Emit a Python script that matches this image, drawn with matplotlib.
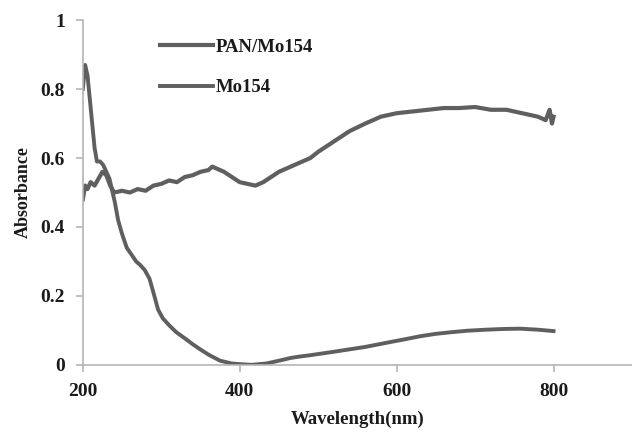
import numpy as np
import matplotlib.pyplot as plt

# wavelength (nm) and absorbance
wl_pan = [200, 203, 206, 210, 215, 220, 225, 230, 235, 240, 250, 260, 270, 280, 290,
          300, 310, 320, 330, 340, 350, 360, 365, 370, 380, 390, 400, 410, 420, 430,
          440, 450, 460, 470, 480, 490, 500, 520, 540, 560, 580, 600, 620, 640, 660,
          680, 700, 720, 740, 760, 770, 780, 790, 795, 798, 800]
abs_pan = [0.48, 0.52, 0.51, 0.53, 0.52, 0.54, 0.56, 0.55, 0.52, 0.50, 0.505, 0.50, 0.51, 0.505, 0.52,
           0.525, 0.535, 0.53, 0.545, 0.55, 0.56, 0.565, 0.575, 0.57, 0.56, 0.545, 0.53, 0.525, 0.52, 0.53,
           0.545, 0.56, 0.57, 0.58, 0.59, 0.60, 0.618, 0.648, 0.678, 0.70, 0.72, 0.73, 0.735, 0.74, 0.745,
           0.745, 0.748, 0.74, 0.74, 0.73, 0.725, 0.72, 0.71, 0.74, 0.70, 0.72]

wl_mo = [200, 203, 206, 209, 212, 215, 218, 222, 226, 230, 234, 238, 241, 245, 250, 256,
         262, 268, 273, 279, 285, 290, 296, 302, 310, 319, 330, 340, 349, 360, 375, 390,
         400, 415, 434, 450, 465, 476, 490, 502, 520, 540, 560, 587, 610, 630, 650, 671,
         690, 714, 735, 757, 780, 800]
abs_mo = [0.80, 0.87, 0.84, 0.77, 0.70, 0.63, 0.59, 0.59, 0.58, 0.56, 0.54, 0.50, 0.47, 0.42, 0.38, 0.34,
          0.32, 0.30, 0.29, 0.275, 0.25, 0.21, 0.16, 0.135, 0.115, 0.095, 0.077, 0.06, 0.046, 0.03, 0.012, 0.004,
          0.002, 0.0, 0.004, 0.012, 0.02, 0.024, 0.028, 0.032, 0.038, 0.045, 0.052, 0.064, 0.074, 0.083, 0.09, 0.095,
          0.099, 0.102, 0.104, 0.105, 0.102, 0.098]

plt.rcParams['font.family'] = 'Liberation Serif'
plt.rcParams['font.weight'] = 'bold'

fig = plt.figure(figsize=(6.32, 4.38), dpi=100)
ax = fig.add_axes([0.131, 0.167, 0.869, 0.787])

line_color = '#5f5f5f'
ax.plot(wl_pan, abs_pan, color=line_color, lw=3.0, label='PAN/Mo154', solid_joinstyle='round')
ax.plot(wl_mo, abs_mo, color=line_color, lw=2.8, label='Mo154', solid_joinstyle='round')

ax.set_xlim(200, 900)
ax.set_ylim(0, 1)
ax.set_xticks([200, 400, 600, 800])
ax.set_yticks([0, 0.2, 0.4, 0.6, 0.8, 1])
ax.set_yticklabels(['0', '0.2', '0.4', '0.6', '0.8', '1'])

for s in ['top', 'right']:
    ax.spines[s].set_visible(False)
for s in ['left', 'bottom']:
    ax.spines[s].set_color('#b5b5b5')
    ax.spines[s].set_linewidth(1.2)
ax.tick_params(direction='out', length=5, width=1.2, color='#b5b5b5',
               labelsize=14, labelcolor='#1a1a1a', pad=8)
for lab in ax.get_xticklabels() + ax.get_yticklabels():
    lab.set_fontweight('bold')

ax.set_xlabel('Wavelength(nm)', fontsize=13.5, fontweight='bold', color='#1a1a1a', labelpad=8)
ax.set_ylabel('Absorbance', fontsize=13, fontweight='bold', color='#1a1a1a', labelpad=6)

ax.legend(loc='upper left', bbox_to_anchor=(0.11, 0.995), frameon=False,
          handlelength=2.8, handletextpad=0.15, labelspacing=1.25,
          prop={'size': 13.5, 'weight': 'bold'}, labelcolor='#1a1a1a')

fig.savefig('out.png', dpi=100)
